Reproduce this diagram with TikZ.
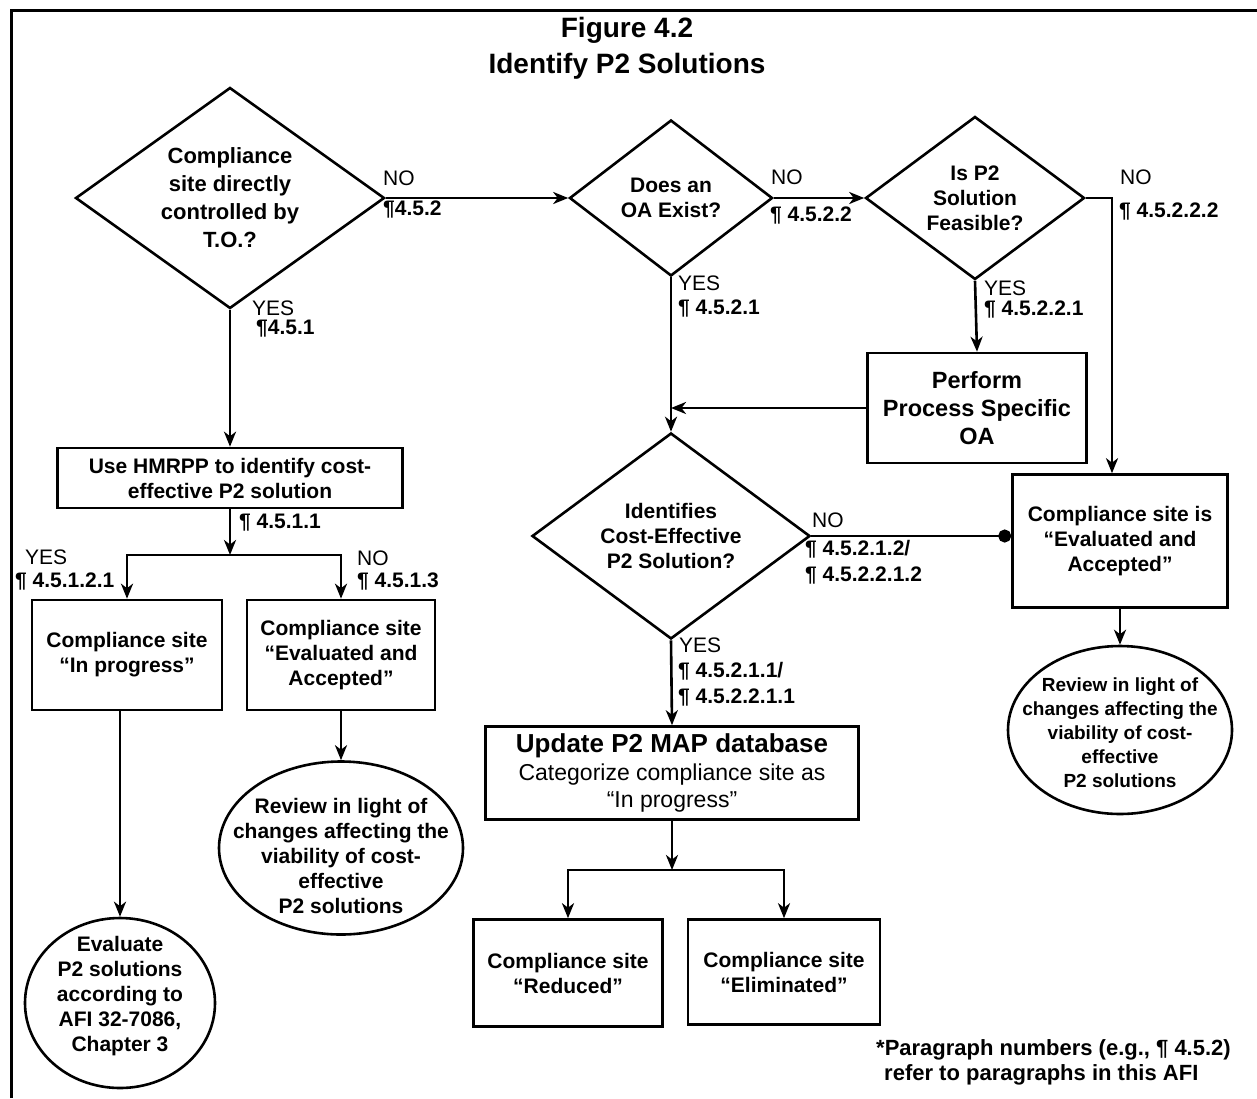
\documentclass[tikz,border=0pt]{standalone}
\usepackage{fontspec}
\setmainfont{Liberation Sans}
\usepackage{tikz}
\usetikzlibrary{arrows.meta}
\usetikzlibrary{shapes.geometric}

\newcommand{\boxfont}{\bfseries\fontsize{21}{25}\selectfont}
\newcommand{\yesnofont}{\fontsize{21}{25}\selectfont}
\newcommand{\parafont}{\bfseries\fontsize{21}{25}\selectfont}

\begin{document}
\begin{tikzpicture}[x=1pt, y=-1pt]
		\tikzset{decision/.style={shape = diamond, draw, line width = 2.6pt, inner sep = 0pt, align = center, font = \boxfont}}
		\tikzset{process/.style={shape = rectangle, draw, line width = 2.6pt, align = center, font = \boxfont}}
		\tikzset{terminal/.style={shape = ellipse, draw, line width = 2.6pt}}
		\tikzset{edge/.style={->, > = {Stealth[length = 15pt, width = 12pt, inset = 4.5pt]}, line width = 2.6pt}}
		\tikzset{fork/.style={edge, <->}}
		\tikzset{dot/.style={-{Circle[length = 13pt]}, line width = 2.6pt}}
		\tikzset{answer/.style={anchor = west, inner sep = 0pt, font = \yesnofont}}
		\tikzset{para/.style={anchor = west, inner sep = 0pt, font = \parafont}}
					\useasboundingbox (0,0) rectangle (1257,1098);
					\draw[line width = 3pt] (11,1098) -- (11,10) -- (1257,10);
					\node[align = center, font = \bfseries\fontsize{28}{36}\selectfont] (title) at (627,48) {Figure 4.2\\Identify P2 Solutions};
					%decisions
					\node[decision, aspect = 1.4, minimum width = 309pt, minimum height = 221pt, font = \bfseries\fontsize{22}{28}\selectfont] (d1) at (230,198) {Compliance\\site directly\\controlled by\\T.O.?};
					\node[decision, aspect = 1, minimum width = 203pt, minimum height = 156pt] (d2) at (671,198) {Does an\\OA Exist?};
					\node[decision, aspect = 1.3, minimum width = 219pt, minimum height = 163pt] (d3) at (975,198) {Is P2\\Solution\\Feasible?};
					\node[decision, aspect = 1.35, minimum width = 278pt, minimum height = 206pt] (d4) at (671,536) {Identifies\\Cost-Effective\\P2 Solution?};
					%boxes
					\node[process, minimum width = 345pt, minimum height = 60pt] (hm) at (230,478) {Use HMRPP to identify cost-\\effective P2 solution};
					\node[process, minimum width = 190pt, minimum height = 110pt] (ip) at (127,655) {Compliance site\\“In progress”};
					\node[process, minimum width = 188pt, minimum height = 110pt] (ea) at (341,655) {Compliance site\\“Evaluated and\\Accepted”};
					\node[process, minimum width = 219pt, minimum height = 110pt, font = \bfseries\fontsize{23.5}{28}\selectfont] (pf) at (977,408) {Perform\\Process Specific\\OA};
					\node[process, minimum width = 215pt, minimum height = 133pt] (e2) at (1120,541) {Compliance site is\\“Evaluated and\\Accepted”};
					\node[process, minimum width = 373pt, minimum height = 93pt, font = \fontsize{23}{27.5}\selectfont] (upd) at (672,773) {\bfseries\fontsize{26}{27.5}\selectfont Update P2 MAP database\\Categorize compliance site as\\“In progress”};
					\node[process, minimum width = 189pt, minimum height = 107pt] (red) at (568,973) {Compliance site\\“Reduced”};
					\node[process, minimum width = 192pt, minimum height = 105pt] (elim) at (784,972) {Compliance site\\“Eliminated”};
					%ends
					\node[terminal, minimum width = 190pt, minimum height = 170pt] (ev) at (120,1003) {};
					\node[align = center, font = \boxfont] (ev-text) at (120,996) {Evaluate\\P2 solutions\\according to\\AFI 32-7086,\\Chapter 3};
					\node[terminal, minimum width = 244pt, minimum height = 173pt] (rev1) at (341,848) {};
					\node[align = center, font = \boxfont] (rev1-text) at (341,856) {Review in light of\\changes affecting the\\viability of cost-\\effective\\P2 solutions};
					\node[terminal, minimum width = 224pt, minimum height = 168pt] (rev2) at (1120,730) {};
					\node[align = center, font = \bfseries\fontsize{19}{24}\selectfont] (rev2-text) at (1120,733) {Review in light of\\changes affecting the\\viability of cost-\\effective\\P2 solutions};
					%junctions
					\coordinate (j1) at (230,555);
					\coordinate (j2) at (1112,198);
					\coordinate (j3) at (672,870);
					%edges
					\draw[edge] (d1.east) -- (d2.west);
					\draw[edge] (d2.east) -- (d3.west);
					\draw[edge] (d3.east) -- (j2) -- (j2 |- e2.north);
					\draw[edge] (d3.south) -- (pf.north);
					\draw[edge] (pf.west) -- (pf.west -| d2.south);
					\draw[edge] (d2.south) -- (d4.north);
					\draw[dot] (d4.east) -- (d4.east -| e2.west);
					\draw[edge] (d4.south) -- (upd.north);
					\draw[edge] (upd.south) -- (j3);
					\draw[fork] (red.north) -- (red.north |- j3) -- (elim.north |- j3) -- (elim.north);
					\draw[edge] (d1.south) -- (hm.north);
					\draw[edge] (hm.south) -- (j1);
					\draw[fork] (ip.north) -- (ip.north |- j1) -- (ea.north |- j1) -- (ea.north);
					\draw[edge] (ev.north |- ip.south) -- (ev.north);
					\draw[edge] (ea.south) -- (rev1.north);
					\draw[edge] (e2.south) -- (rev2.north);
					%labels
					\node[answer] (no1) at (383,178) {NO};
					\node[para] (p1) at (383,210) {¶4.5.2};
					\node[answer] (yes1) at (252,308) {YES};
					\node[para] (p2) at (256,329) {¶4.5.1};
					\node[answer] (no2) at (771,177) {NO};
					\node[para] (p3) at (770,216) {¶ 4.5.2.2};
					\node[answer] (yes2) at (678,283) {YES};
					\node[para] (p4) at (678,309) {¶ 4.5.2.1};
					\node[answer] (no3) at (1120,177) {NO};
					\node[para] (p5) at (1119,212) {¶ 4.5.2.2.2};
					\node[answer] (yes3) at (984,288) {YES};
					\node[para] (p6) at (984,310) {¶ 4.5.2.2.1};
					\node[answer] (no4) at (812,520) {NO};
					\node[para] (p7) at (805,549) {¶ 4.5.2.1.2/};
					\node[para] (p8) at (805,576) {¶ 4.5.2.2.1.2};
					\node[answer] (yes4) at (679,645) {YES};
					\node[para] (p9) at (678,671) {¶ 4.5.2.1.1/};
					\node[para] (p10) at (678,698) {¶ 4.5.2.2.1.1};
					\node[para] (p11) at (239,523) {¶ 4.5.1.1};
					\node[answer] (yes5) at (25,557) {YES};
					\node[para] (p12) at (15,582) {¶ 4.5.1.2.1};
					\node[answer] (no5) at (357,558) {NO};
					\node[para] (p13) at (357,582) {¶ 4.5.1.3};
					\node[para, align = left, font = \bfseries\fontsize{22}{25}\selectfont] (note) at (876,1062) {*Paragraph numbers (e.g., ¶ 4.5.2)\\\hspace*{8pt}refer to paragraphs in this AFI};
\end{tikzpicture}
\end{document}
